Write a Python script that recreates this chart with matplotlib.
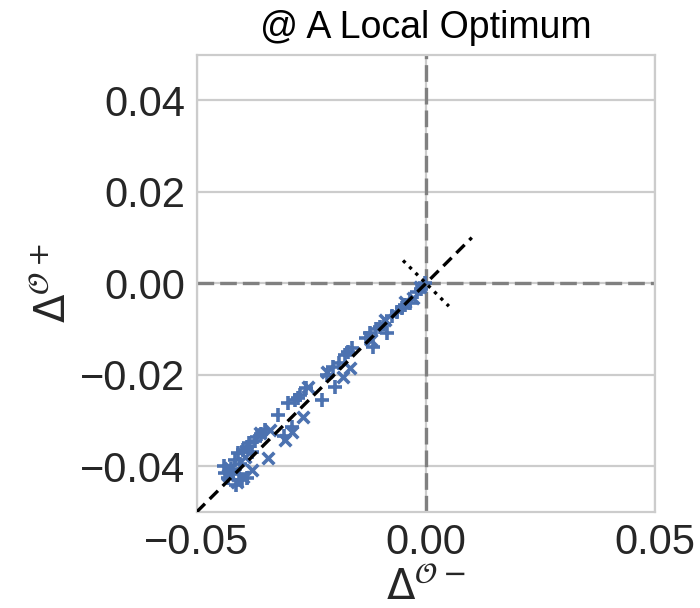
import matplotlib
matplotlib.use("Agg")
import matplotlib.pyplot as plt
import numpy as np

plt.style.use("seaborn-v0_8-whitegrid")
plt.rcParams["font.family"] = ["Liberation Sans", "DejaVu Sans"]
plt.rcParams["mathtext.fontset"] = "dejavusans"

# points drawn with '+' markers
plus_x = [-0.0439, -0.0417, -0.0410, -0.0391, -0.0369, -0.0352, -0.0323, -0.0301,
          -0.0275, -0.0227, -0.0203, -0.0177, -0.0122, -0.0100, -0.0085, -0.0063,
          -0.0035, -0.0020, -0.0002, -0.0425, -0.0405, -0.0380, -0.0286, -0.0199,
          -0.0162, -0.0116, -0.0052, -0.0432, -0.0420, -0.0398, -0.0385, -0.0372,
          -0.0360, -0.0415, -0.0402, -0.0310, -0.0292, -0.0280, -0.0262, -0.0215,
          -0.0190, -0.0170, -0.0130, -0.0110, -0.0092, -0.0075, -0.0045, -0.0010,
          -0.0440, -0.0408, -0.0390]
plus_y = [-0.0415, -0.0387, -0.0372, -0.0358, -0.0337, -0.0321, -0.0289, -0.0262,
          -0.0245, -0.0256, -0.0184, -0.0157, -0.0109, -0.0096, -0.0109, -0.0063,
          -0.0044, -0.0020, 0.0000, -0.0405, -0.0395, -0.0370, -0.0256, -0.0227,
          -0.0142, -0.0140, -0.0055, -0.0425, -0.0410, -0.0365, -0.0350, -0.0345,
          -0.0330, -0.0440, -0.0430, -0.0335, -0.0315, -0.0250, -0.0230, -0.0200,
          -0.0175, -0.0150, -0.0120, -0.0100, -0.0088, -0.0072, -0.0048, -0.0012,
          -0.0400, -0.0418, -0.0425]
# points drawn with 'x' markers
cross_x = [-0.0428, -0.0413, -0.0400, -0.0380, -0.0362, -0.0345, -0.0308, -0.0293,
           -0.0258, -0.0269, -0.0216, -0.0181, -0.0166, -0.0089, -0.0028, -0.0013,
           -0.0432, -0.0395, -0.0340, -0.0120, -0.0045]
cross_y = [-0.0404, -0.0435, -0.0424, -0.0409, -0.0328, -0.0383, -0.0343, -0.0326,
           -0.0227, -0.0293, -0.0195, -0.0205, -0.0186, -0.0081, -0.0033, -0.0009,
           -0.0420, -0.0380, -0.0320, -0.0125, -0.0040]

diag_x = [-0.05, 0.01]
perp_x = [-0.005, 0.005]

fig = plt.figure(figsize=(7, 6.08), dpi=100)
ax = fig.add_axes([0.281, 0.158, 0.655, 0.752])

ax.axhline(0, color="gray", linestyle=(0, (5, 1.8)), linewidth=2.4, zorder=1)
ax.axvline(0, color="gray", linestyle=(0, (5, 1.8)), linewidth=2.4, zorder=1)
ax.scatter(plus_x, plus_y, marker="+", s=110, linewidths=2.6, color="#4C72B0", zorder=3)
ax.scatter(cross_x, cross_y, marker="x", s=70, linewidths=2.6, color="#4C72B0", zorder=3)
ax.plot(diag_x, diag_x, color="black", linestyle=(0, (3.5, 2)), linewidth=2.4, zorder=4)
ax.plot(perp_x, [-v for v in perp_x], color="black", linestyle=":", linewidth=2.4, zorder=4)

ax.set_xlim(-0.05, 0.05)
ax.set_ylim(-0.05, 0.05)
ax.set_xticks([-0.05, 0.0, 0.05])
ax.set_yticks([-0.04, -0.02, 0.0, 0.02, 0.04])
ax.set_xticklabels(["\u22120.05", "0.00", "0.05"])
ax.set_yticklabels(["\u22120.04", "\u22120.02", "0.00", "0.02", "0.04"])
ax.tick_params(labelsize=30, colors="#262626", pad=8)
ax.grid(True, color="#cccccc", linewidth=1.6)
for s in ax.spines.values():
    s.set_color("#cccccc")
    s.set_linewidth(1.6)

ax.set_title("@ A Local Optimum", fontsize=27, pad=12, color="black")
ax.set_xlabel(r"$\Delta^{\mathcal{O}-}$", fontsize=30, labelpad=4)
ax.set_ylabel(r"$\Delta^{\mathcal{O}+}$", fontsize=30, labelpad=4)

fig.savefig("out.png", dpi=100)
